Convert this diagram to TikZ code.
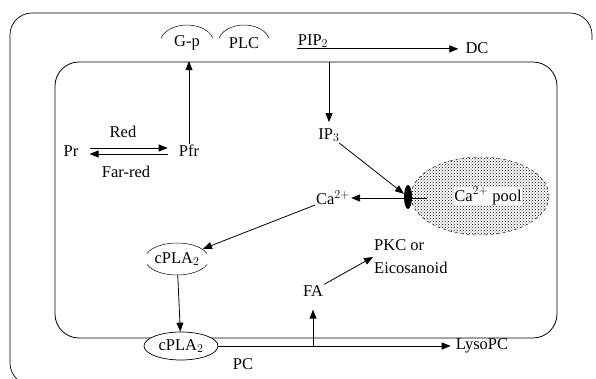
\documentclass[tikz,border=0pt]{standalone}
\usepackage{fontspec}
\setmainfont{Liberation Serif}
\usetikzlibrary{arrows.meta,patterns,shapes.geometric,calc}
\begin{document}
\begin{tikzpicture}[x=1pt,y=-1pt,
  lbl/.style={inner sep=1pt, font=\fontsize{16.5}{23}\selectfont},
  arr/.style={line width=0.8pt,-{Triangle[length=9pt,width=7pt]}},
  memb/.style={line width=0.8pt, rounded corners=24pt},
  enz/.style={line width=0.5pt}]
\useasboundingbox (0,0) rectangle (596,379);
\clip (0,0) rectangle (596,379);
% outer cell wall
\draw[line width=0.7pt, rounded corners=22pt] (40,385) -- (10,385) -- (10,13) -- (592,13) -- (592,40);
% inner membrane
\draw[memb] (55,62) rectangle (557,338);
\coordinate (memtop) at (0,62);
% membrane proteins
\node[lbl, ellipse, minimum width=54, minimum height=36] (gp) at (187,43) {G-p};
\node[lbl, ellipse, minimum width=52, minimum height=36] (plc) at (244,43) {PLC};
\draw[enz] (gp.center) ++(195:27 and 18) arc[start angle=195,end angle=345,x radius=27,y radius=18];
\draw[enz] (plc.center) ++(195:26 and 18) arc[start angle=195,end angle=345,x radius=26,y radius=18];
\node[lbl] (pip2) at (313,41) {PIP$_2$};
\node[lbl] (dc) at (477,48) {DC};
\node[lbl] (ip3) at (329,135) {IP$_3$};
% phytochrome
\node[lbl] (pr) at (71,151) {Pr};
\node[lbl] (pfr) at (189,151) {Pfr};
\node[lbl] (red) at (123,132) {Red};
\node[lbl] (farred) at (126,172) {Far-red};
% calcium
\node[ellipse, draw, dashed, line width=0.4pt, pattern=crosshatch dots, pattern color=black, minimum width=138, minimum height=78] (pool) at (480,196) {};
\node[lbl, fill=white, inner sep=0.5pt] (pooltxt) at (488,196) {Ca$^{2+}$ pool};
\node[ellipse, fill=black, minimum width=8, minimum height=24, inner sep=0pt] (chan) at (408,197) {};
\coordinate (rel) at (427,198);
\node[lbl] (ca) at (333,198) {Ca$^{2+}$};
% cPLA2
\node[lbl, ellipse, minimum width=64, minimum height=32] (cpla1) at (177,259) {cPLA$_2$};
\draw[enz] (cpla1.center) ++(200:32 and 16) arc[start angle=200,end angle=340,x radius=32,y radius=16];
\draw[enz] (cpla1.center) ++(20:32 and 16) arc[start angle=20,end angle=160,x radius=32,y radius=16];
\node[lbl, ellipse, draw, line width=0.7pt, fill=white, minimum width=74, minimum height=28, inner sep=0pt] (cpla2) at (181,346) {cPLA$_2$};
\node[lbl] (pc) at (243,364) {PC};
\node[lbl] (lyso) at (482,346) {LysoPC};
\node[lbl] (fa) at (313,291) {FA};
\node[lbl, align=left, anchor=west] (pkc) at (373,257) {PKC or\\Eicosanoid};
% connectors
\draw[arr] (pip2.south west) -- ($(dc.west |- pip2.south)+(-6,0)$);
\draw[arr] (ip3 |- memtop) -- ([shift={(0,-5)}]ip3.north);
\draw[arr] (pfr.north) -- (pfr.north |- gp.south);
\draw[arr] ([shift={(10,-3)}]pr.east) -- ([shift={(-10,-3)}]pfr.west);
\draw[arr] ([shift={(-10,3)}]pfr.west) -- ([shift={(10,3)}]pr.east);
\draw[arr] (ip3) -- (chan);
\draw[arr] (rel) -- (ca);
\draw[arr] (ca) -- (cpla1);
\draw[arr] (cpla1) -- (cpla2);
\draw[arr, shorten >=4pt] (cpla2.east) -- (lyso.west);
\draw[arr, shorten >=12pt] (fa |- cpla2.east) -- (fa.south);
\draw[arr] (fa.north east) -- (pkc.west);
\end{tikzpicture}
\end{document}
